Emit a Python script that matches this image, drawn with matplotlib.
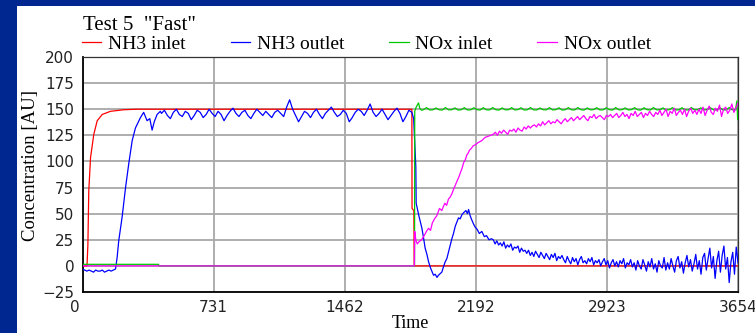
import numpy as np
import matplotlib
matplotlib.use('Agg')
import matplotlib.pyplot as plt
import matplotlib.transforms as mtransforms
from matplotlib.patches import Rectangle

# ---- NH3 inlet (red) ----
nh3_in_t = [0, 25, 30, 35, 45, 63, 82, 110, 156, 230, 300, 1836, 1837, 1847, 1849, 3654]
nh3_in_v = [0, 0, 20, 72, 104, 126, 139, 145, 148, 149.5, 150, 150, 55, 53, 0, 0]

# ---- NH3 outlet (blue) ----
nh3_out_base = [-3, -4, -5, -4, -5, -6, -4, -5, -5, -4, -6, -5, -4, -5, -4, -3]   # t 0..184
nh3_out_rise_t = [193, 202, 221, 240, 258, 277, 295, 323, 341, 360, 375, 388, 400, 416, 434]
nh3_out_rise_v = [8, 24, 47, 75, 98, 120, 132, 142, 147, 139, 141, 130, 138, 145, 148]
nh3_out_plateau = [146, 149, 144, 141, 147, 150, 145, 143, 148, 146, 140, 144, 149, 147, 142,
                   145, 150, 146, 143, 148, 145, 139, 144, 148, 151, 146, 143, 147, 149, 144,
                   141, 146, 150, 147, 144, 148, 145, 142, 147, 149, 146, 143, 152, 159, 150,
                   144, 138, 143, 148, 146, 142, 147, 150, 145, 141, 146, 149, 152, 147, 143,
                   145, 149, 146, 138, 142, 147, 150, 148, 144, 149, 155, 147, 143, 146, 150,
                   145, 140, 144, 148, 151, 146, 138, 143, 149, 147]                 # t 440..1836
nh3_out_drop_t = [1846, 1855, 1858, 1860, 1875, 1892, 1901, 1910, 1920, 1929, 1940, 1950, 1957,
                  1966, 1976, 1984, 1990, 2003, 2012, 2022, 2031, 2040, 2050, 2059, 2068, 2078,
                  2087, 2096, 2105, 2115, 2125, 2137, 2146, 2152, 2161, 2170, 2180, 2189, 2200,
                  2212, 2226, 2240, 2252, 2266, 2280]
nh3_out_drop_v = [141, 105, 95, 60, 48, 36, 27, 17, 11, 4, -2, -6, -9, -8, -11, -9, -8, -6, -1,
                  4, 7, 13, 20, 26, 31, 38, 42, 46, 45, 49, 51, 53, 50, 54, 48, 44, 40, 37, 35,
                  31, 33, 28, 29, 25, 26]
nh3_out_tail = [25, 21, 24, 20, 22, 19, 23, 17, 20, 18, 21, 15, 18, 17, 19, 13, 17, 14, 15, 12,
                15, 10, 13, 9, 14, 11, 8, 13, 10, 7, 12, 9, 6, 11, 8, 12, 5, 9, 7, 10,
                6, 3, 9, 5, 2, 8, 4, 7, 1, 6, 9, 3, 5, 2, 7, 4, 8, 1, 5, 3,
                6, 0, 4, 7, 1, 5, -2, 3, 6, 0, 4, -1, 5, 2, 7, -2, 3, 1, 6, -1,
                3, -4, 5, 0, -3, 6, 1, -5, 4, -1, 7, -3, 2, -6, 5, 0, -2, 8, -4, 3,
                -3, 7, 0, -6, 5, 9, -2, 4, -7, 3, 10, -1, 6, -5, 2, 11, -3, 5, -8, 8,
                12, -4, 7, 17, -2, 9, -12, 5, 14, -6, 10, 19, -3, 8, -16, 4, 13, -8, 18, 3]  # t 2290..3654

# ---- NOx inlet (green) ----
nox_in_start_t = [0, 424, 426, 1851, 1852, 1860, 1873, 1880, 1890]
nox_in_start_v = [1.5, 1.5, 0, 0, 148, 152, 156, 151, 149]
nox_in_plateau = [149.5, 151.5, 149.3, 149.4, 151.2, 149.5, 149.2, 151.6, 149.4, 149.5,
                  151.3, 149.2, 149.5, 151.5, 149.3, 149.4, 151.4, 149.6, 149.2, 151.5,
                  149.4, 149.3, 151.6, 149.5, 149.2, 151.3, 149.4, 149.5, 151.5, 149.3,
                  149.6, 151.4, 149.2, 149.5, 151.6, 149.4, 149.3, 151.2, 149.5, 149.4,
                  151.5, 149.3, 149.6, 151.4, 149.2, 149.5, 151.5, 149.4, 149.3, 151.6,
                  149.5, 149.2, 151.3, 149.4, 149.6, 151.5, 149.3, 149.4, 151.4, 149.5,
                  149.2, 151.6, 149.4, 149.5, 151.3, 149.3, 149.6, 151.5, 149.4, 149.2,
                  151.4, 149.5, 149.3, 151.6, 149.4, 149.5, 151.3, 149.2, 149.6, 151.5,
                  149.4, 149.3, 151.4, 149.5, 149.2, 151.6, 149.4, 149.5, 151.3, 149.3,
                  149.6, 151.5, 149.4, 149.2, 151.4, 149.5, 149.3, 151.6, 149.4, 149.5]  # t 1900..3640
nox_in_end_t = [3648, 3652, 3654]
nox_in_end_v = [158, 140, 140]

# ---- NOx outlet (magenta) ----
nox_out_start_t = [0, 1850, 1852, 1858, 1866, 1875, 1890, 1905, 1917, 1929, 1940, 1950, 1962,
                   1975, 1990, 2003, 2012, 2020, 2030, 2040, 2050, 2059, 2070, 2080, 2090,
                   2100, 2108, 2115, 2125, 2135, 2142, 2150, 2158, 2165, 2178, 2190, 2205,
                   2226, 2244, 2260, 2275]
nox_out_start_v = [0, 0, 33, 25, 21, 23, 25, 29, 33, 36, 34, 41, 45, 48, 55, 53, 57, 60, 58,
                   64, 66, 69, 74, 78, 82, 86, 90, 93, 99, 102, 106, 108, 111, 112, 115, 116,
                   118, 120, 123, 124, 125]
nox_out_tail = [126, 128, 125, 129, 127, 130, 128, 126, 130, 129, 131, 128, 132, 130, 129, 133, 131, 134, 132, 134,
                135, 133, 136, 134, 138, 135, 137, 139, 136, 138, 137, 140, 138, 136, 139, 141, 138, 140, 142, 139,
                141, 143, 140, 142, 144, 141, 139, 143, 142, 145, 141, 143, 144, 142, 140, 144, 143, 145, 142, 144,
                146, 142, 144, 147, 143, 145, 141, 146, 144, 148, 143, 145, 147, 142, 146, 144, 148, 145, 143, 147,
                145, 149, 144, 147, 150, 143, 148, 146, 151, 144, 147, 149, 145, 150, 143, 148, 151, 146, 149, 145,
                150, 146, 152, 144, 149, 153, 147, 145, 151, 148, 154, 143, 150, 152, 146, 149, 155, 147, 151, 156]  # t 2290..3654

x_ticks = [0, 731, 1462, 2192, 2923, 3654]
y_ticks = [-25, 0, 25, 50, 75, 100, 125, 150, 175, 200]

# assemble the series on their sample times
nh3_out_t = np.concatenate([np.linspace(0, 184, len(nh3_out_base)), nh3_out_rise_t,
                            np.linspace(440, 1836, len(nh3_out_plateau)), nh3_out_drop_t,
                            np.linspace(2290, 3654, len(nh3_out_tail))])
nh3_out_v = np.concatenate([nh3_out_base, nh3_out_rise_v, nh3_out_plateau,
                            nh3_out_drop_v, nh3_out_tail])
nox_in_t = np.concatenate([nox_in_start_t, np.linspace(1900, 3640, len(nox_in_plateau)), nox_in_end_t])
nox_in_v = np.concatenate([nox_in_start_v, nox_in_plateau, nox_in_end_v])
nox_out_t = np.concatenate([nox_out_start_t, np.linspace(2290, 3654, len(nox_out_tail))])
nox_out_v = np.concatenate([nox_out_start_v, nox_out_tail])

W, H = 755, 333
fig = plt.figure(figsize=(W / 100, H / 100), dpi=100, facecolor='#00278F')
fig.add_artist(Rectangle((17 / W, 0), 1 - 17 / W, (H - 6) / H, transform=fig.transFigure,
                         facecolor='white', edgecolor='none', zorder=0))

ax = fig.add_axes([82.5 / W, 41 / H, 655.5 / W, 235 / H])
ax.set_facecolor('white')

lw = 0.9
l1, = ax.plot(nh3_in_t, nh3_in_v, color='#FF0000', lw=lw, zorder=3)
l2, = ax.plot(nh3_out_t, nh3_out_v, color='#0000FF', lw=lw, zorder=4)
l3, = ax.plot(nox_in_t, nox_in_v, color='#00C800', lw=lw, zorder=5)
l4, = ax.plot(nox_out_t, nox_out_v, color='#FF00FF', lw=lw, zorder=6)

ax.set_xlim(0, 3654)
ax.set_ylim(-25, 200)
ax.set_xticks(x_ticks)
ax.set_xticklabels([str(v) for v in x_ticks])
ax.set_yticks(y_ticks)
ax.grid(True, color='#A8A8A8', lw=1.3, zorder=1)
ax.set_axisbelow(True)
ax.tick_params(length=0, labelsize=11, colors='#222222')
ax.tick_params(axis='x', pad=6)
ax.tick_params(axis='y', pad=6)

# the first time label sits a little left of the origin
first = ax.get_xticklabels()[0]
first.set_transform(first.get_transform() + mtransforms.ScaledTranslation(-8 / 100, 0, fig.dpi_scale_trans))

for side in ['left', 'bottom']:
    ax.spines[side].set_linewidth(1.3)
    ax.spines[side].set_color('black')
for side in ['top', 'right']:
    ax.spines[side].set_linewidth(0.9)
    ax.spines[side].set_color('#333333')

serif = 'Liberation Serif'
ax.set_ylabel('Concentration [AU]', family=serif, size=13.5)
ax.yaxis.set_label_coords(-0.066, 0.54)
ax.set_xlabel('Time', family=serif, size=13)
ax.xaxis.set_label_coords(0.5, -0.1)

fig.text(83 / W, 1 - 30 / H, 'Test 5  "Fast"', family=serif, size=15, va='baseline')

fig.legend([l1, l2, l3, l4], ['NH3 inlet', 'NH3 outlet', 'NOx inlet', 'NOx outlet'],
           ncol=4, loc='lower left', bbox_to_anchor=(82 / W, 1 - 53 / H),
           frameon=False, prop={'family': serif, 'size': 14},
           handlelength=1.0, handletextpad=0.35, columnspacing=2.3,
           borderpad=0, borderaxespad=0)

fig.savefig('out.png', dpi=100, facecolor=fig.get_facecolor())
